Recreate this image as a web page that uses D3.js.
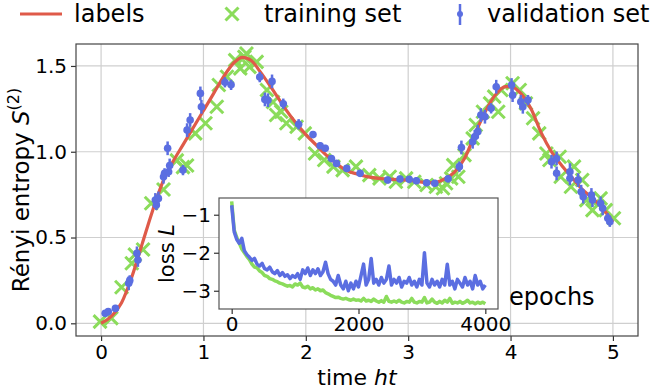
<!DOCTYPE html>
<html>
<head>
<meta charset="utf-8">
<script src="https://cdn.jsdelivr.net/npm/d3@7"></script>
<style>
  body { margin: 0; background: #fff; }
  svg text { font-family: "DejaVu Sans", sans-serif; fill: #000; }
</style>
</head>
<body>
<div id="chart"></div>
<script>
// labels (exact curve)
const labelT = [0.0, 0.1, 0.2, 0.3, 0.4, 0.5, 0.6, 0.7, 0.8, 0.9, 1.0, 1.1, 1.2, 1.3, 1.38, 1.47, 1.55, 1.7, 1.8, 1.9, 2.0, 2.1, 2.2, 2.3, 2.4, 2.5, 2.6, 2.8, 3.0, 3.15, 3.25, 3.35, 3.45, 3.55, 3.65, 3.75, 3.85, 3.95, 4.0, 4.1, 4.2, 4.3, 4.4, 4.5, 4.6, 4.7, 4.8, 4.9, 5.0];
const labelS = [0.0, 0.04, 0.12, 0.27, 0.46, 0.65, 0.82, 0.94, 1.04, 1.14, 1.24, 1.34, 1.44, 1.52, 1.55, 1.53, 1.47, 1.34, 1.25, 1.17, 1.10, 1.04, 0.98, 0.93, 0.89, 0.87, 0.855, 0.84, 0.835, 0.822, 0.82, 0.84, 0.88, 0.96, 1.10, 1.23, 1.33, 1.38, 1.38, 1.34, 1.25, 1.11, 1.00, 0.92, 0.85, 0.78, 0.73, 0.67, 0.59];

// training set
const trainT = [-0.01, 0.10, 0.20, 0.30, 0.33, 0.41, 0.49, 0.61, 0.74, 0.80, 0.84, 0.92, 1.02, 1.13, 1.15, 1.23, 1.31, 1.36, 1.40, 1.42, 1.45, 1.52, 1.62, 1.68, 1.71, 1.76, 1.81, 1.91, 1.99, 2.09, 2.18, 2.27, 2.36, 2.49, 2.62, 2.72, 2.82, 2.88, 2.98, 3.06, 3.18, 3.27, 3.34, 3.37, 3.42, 3.44, 3.49, 3.55, 3.63, 3.66, 3.73, 3.80, 3.84, 3.88, 3.91, 4.02, 4.09, 4.15, 4.22, 4.28, 4.35, 4.38, 4.48, 4.49, 4.59, 4.62, 4.70, 4.74, 4.80, 4.88, 4.93, 5.01];
const trainS = [0.01, 0.03, 0.21, 0.35, 0.40, 0.43, 0.70, 0.78, 0.95, 0.91, 0.92, 1.107, 1.166, 1.262, 1.389, 1.437, 1.534, 1.486, 1.553, 1.573, 1.495, 1.524, 1.36, 1.29, 1.214, 1.233, 1.166, 1.146, 1.107, 0.99, 0.952, 0.913, 0.893, 0.913, 0.864, 0.845, 0.854, 0.825, 0.845, 0.825, 0.806, 0.796, 0.787, 0.816, 0.845, 0.922, 0.854, 0.98, 1.078, 1.156, 1.233, 1.282, 1.321, 1.233, 1.36, 1.399, 1.36, 1.282, 1.195, 1.107, 0.99, 0.952, 0.971, 0.854, 0.796, 0.913, 0.835, 0.718, 0.66, 0.728, 0.66, 0.612];

// validation set
const valT = [0.04, 0.07, 0.14, 0.27, 0.28, 0.35, 0.36, 0.53, 0.54, 0.56, 0.61, 0.62, 0.65, 0.66, 0.67, 0.80, 0.84, 0.87, 0.97, 0.98, 1.21, 1.27, 1.55, 1.60, 1.63, 1.67, 1.78, 1.93, 2.07, 2.14, 2.19, 2.25, 2.30, 2.40, 2.53, 2.80, 2.92, 3.01, 3.08, 3.18, 3.26, 3.39, 3.50, 3.52, 3.63, 3.65, 3.68, 3.71, 3.75, 3.81, 3.86, 4.01, 4.02, 4.10, 4.12, 4.17, 4.40, 4.45, 4.45, 4.58, 4.58, 4.66, 4.69, 4.71, 4.79, 4.80, 4.88, 4.90, 4.95, 4.97];
const valS = [0.058, 0.068, 0.087, 0.233, 0.25, 0.408, 0.369, 0.719, 0.69, 0.728, 0.854, 0.874, 1.02, 0.883, 0.92, 0.893, 1.126, 1.185, 1.34, 1.262, 1.405, 1.39, 1.435, 1.305, 1.30, 1.41, 1.28, 1.16, 1.10, 1.035, 1.02, 0.96, 0.932, 0.903, 0.874, 0.835, 0.841, 0.839, 0.831, 0.819, 0.816, 0.842, 0.913, 1.025, 1.058, 1.087, 1.117, 1.214, 1.204, 1.253, 1.379, 1.389, 1.33, 1.291, 1.262, 1.301, 0.942, 0.961, 0.874, 0.883, 0.845, 0.835, 0.767, 0.738, 0.748, 0.718, 0.699, 0.67, 0.612, 0.592];
const valErr = [0.02, 0.02, 0.02, 0.04, 0.03, 0.04, 0.04, 0.04, 0.03, 0.04, 0.04, 0.03, 0.04, 0.03, 0.04, 0.03, 0.04, 0.04, 0.04, 0.04, 0.03, 0.03, 0.03, 0.04, 0.04, 0.04, 0.03, 0.03, 0.02, 0.02, 0.02, 0.02, 0.02, 0.02, 0.02, 0.02, 0.02, 0.02, 0.02, 0.02, 0.02, 0.02, 0.03, 0.04, 0.04, 0.04, 0.04, 0.04, 0.04, 0.03, 0.04, 0.04, 0.04, 0.04, 0.04, 0.03, 0.04, 0.04, 0.04, 0.05, 0.04, 0.04, 0.04, 0.04, 0.04, 0.04, 0.04, 0.04, 0.03, 0.03];

// inset: loss every 40 epochs
const epochs = d3.range(0, 4001, 40);
const lossVal = [-0.75, -1.45, -1.65, -1.75, -1.62, -1.95, -2.05, -2.12, -2.2, -2.15, -2.3, -2.35, -2.28, -2.42, -2.45, -2.38, -2.5, -2.55, -2.47, -2.6, -2.52, -2.62, -2.58, -2.68, -2.6, -2.65, -2.55, -2.7, -2.45, -2.55, -2.4, -2.6, -2.45, -2.55, -2.42, -2.6, -2.5, -2.25, -2.55, -2.7, -2.75, -2.85, -2.6, -2.85, -2.95, -2.75, -3.0, -2.8, -2.95, -2.75, -2.9, -2.6, -2.3, -2.85, -2.7, -2.15, -2.8, -2.7, -2.85, -2.65, -2.8, -2.7, -2.35, -2.85, -2.7, -2.8, -2.65, -2.9, -2.75, -2.8, -2.65, -2.85, -2.75, -2.9, -2.7, -2.85, -2.0, -2.8, -2.9, -2.7, -2.85, -2.75, -2.9, -2.7, -2.85, -2.3, -2.85, -2.75, -2.95, -2.7, -2.8, -2.9, -2.65, -2.85, -2.75, -2.95, -2.6, -2.85, -2.75, -2.95, -2.85];
const lossTrain = [-0.65, -1.4, -1.6, -1.75, -1.9, -2.0, -2.1, -2.18, -2.3, -2.38, -2.4, -2.48, -2.52, -2.6, -2.62, -2.68, -2.7, -2.74, -2.76, -2.8, -2.82, -2.85, -2.88, -2.86, -2.9, -2.82, -2.85, -2.8, -2.9, -2.92, -2.88, -2.95, -2.92, -2.98, -2.95, -3.0, -2.98, -3.05, -3.08, -3.12, -3.15, -3.18, -3.17, -3.2, -3.22, -3.2, -3.23, -3.25, -3.22, -3.25, -3.24, -3.27, -3.2, -3.27, -3.25, -3.28, -3.22, -3.27, -3.3, -3.26, -3.3, -3.15, -3.28, -3.3, -3.27, -3.3, -3.25, -3.3, -3.32, -3.28, -3.3, -3.2, -3.3, -3.32, -3.28, -3.3, -3.18, -3.32, -3.3, -3.22, -3.3, -3.33, -3.28, -3.32, -3.25, -3.3, -3.2, -3.33, -3.3, -3.32, -3.28, -3.33, -3.3, -3.25, -3.32, -3.3, -3.34, -3.3, -3.33, -3.3, -3.34];

const xTicks = [0, 1, 2, 3, 4, 5];
const yTicks = [0.0, 0.5, 1.0, 1.5];
const insetXTicks = [0, 2000, 4000];
const insetYTicks = [-1, -2, -3];

const RED = "#df5a49", GREEN = "#8bdc5b", BLUE = "#5b6ee1";
const width = 661, height = 392;
const box = { left: 76, right: 638, top: 44, bottom: 336 };
const inBox = { left: 219, right: 498, top: 198, bottom: 309 };

const svg = d3.select("#chart").append("svg")
  .attr("width", width).attr("height", height);

const x = d3.scaleLinear().domain([-0.245, 5.245]).range([box.left, box.right]);
const y = d3.scaleLinear().domain([-0.074, 1.628]).range([box.bottom, box.top]);

// grid
svg.append("g").selectAll("line").data(xTicks).enter().append("line")
  .attr("x1", d => x(d)).attr("x2", d => x(d))
  .attr("y1", box.top).attr("y2", box.bottom)
  .attr("stroke", "#cfcfcf").attr("stroke-width", 1.2);
svg.append("g").selectAll("line").data(yTicks).enter().append("line")
  .attr("y1", d => y(d)).attr("y2", d => y(d))
  .attr("x1", box.left).attr("x2", box.right)
  .attr("stroke", "#cfcfcf").attr("stroke-width", 1.2);

// axes
const xAxis = svg.append("g").attr("transform", "translate(0," + box.bottom + ")")
  .call(d3.axisBottom(x).tickValues(xTicks).tickFormat(d3.format("d")).tickSizeOuter(0).tickSize(5).tickPadding(4));
const yAxis = svg.append("g").attr("transform", "translate(" + box.left + ",0)")
  .call(d3.axisLeft(y).tickValues(yTicks).tickFormat(d3.format(".1f")).tickSizeOuter(0).tickSize(5).tickPadding(4));
[xAxis, yAxis].forEach(a => {
  a.select(".domain").remove();
  a.selectAll("line").attr("stroke", "#333").attr("stroke-width", 1.2);
  a.selectAll("text").style("font-size", "20px").style("font-family", "DejaVu Sans");
});
svg.append("rect")
  .attr("x", box.left).attr("y", box.top)
  .attr("width", box.right - box.left).attr("height", box.bottom - box.top)
  .attr("fill", "none").attr("stroke", "#444").attr("stroke-width", 1.2);

// training set crosses
const cross = 6.5;
const trainG = svg.append("g");
trainT.forEach((t, i) => {
  const cx = x(t), cy = y(trainS[i]);
  trainG.append("path")
    .attr("d", `M${cx - cross},${cy - cross}L${cx + cross},${cy + cross}M${cx - cross},${cy + cross}L${cx + cross},${cy - cross}`)
    .attr("stroke", GREEN).attr("stroke-width", 3).attr("fill", "none");
});

// labels line
const line = d3.line().x((d, i) => x(labelT[i])).y(d => y(d)).curve(d3.curveMonotoneX);
svg.append("path").datum(labelS).attr("d", line)
  .attr("fill", "none").attr("stroke", RED).attr("stroke-width", 3.2);

// validation errorbars
const valG = svg.append("g");
valT.forEach((t, i) => {
  valG.append("line")
    .attr("x1", x(t)).attr("x2", x(t))
    .attr("y1", y(valS[i] - valErr[i])).attr("y2", y(valS[i] + valErr[i]))
    .attr("stroke", BLUE).attr("stroke-width", 2.5);
  valG.append("circle").attr("cx", x(t)).attr("cy", y(valS[i])).attr("r", 3.8).attr("fill", BLUE);
});

// axis labels
svg.append("text").attr("x", (box.left + box.right) / 2).attr("y", 385)
  .attr("text-anchor", "middle").style("font-size", "22px")
  .html('time <tspan font-style="italic">ht</tspan>');
svg.append("text").attr("transform", "translate(29," + ((box.top + box.bottom) / 2) + ") rotate(-90)")
  .attr("text-anchor", "middle").style("font-size", "23px")
  .html('Rényi entropy <tspan font-style="italic">S</tspan><tspan dy="-10" font-size="16px">(2)</tspan>');

// inset
const ix = d3.scaleLinear().domain([-200, 4200]).range([inBox.left, inBox.right]);
const iy = d3.scaleLinear().domain([-3.48, -0.56]).range([inBox.bottom, inBox.top]);
svg.append("rect")
  .attr("x", inBox.left).attr("y", inBox.top)
  .attr("width", inBox.right - inBox.left).attr("height", inBox.bottom - inBox.top)
  .attr("fill", "#fff").attr("stroke", "#555").attr("stroke-width", 1.2);

const ixAxis = svg.append("g").attr("transform", "translate(0," + inBox.bottom + ")")
  .call(d3.axisBottom(ix).tickValues(insetXTicks).tickFormat(d3.format("d")).tickSizeOuter(0).tickSize(5).tickPadding(3));
const iyAxis = svg.append("g").attr("transform", "translate(" + inBox.left + ",0)")
  .call(d3.axisLeft(iy).tickValues(insetYTicks).tickFormat(d => "\u2212" + Math.abs(d)).tickSizeOuter(0).tickSize(5).tickPadding(3));
[ixAxis, iyAxis].forEach(a => {
  a.select(".domain").remove();
  a.selectAll("line").attr("stroke", "#333").attr("stroke-width", 1.2);
  a.selectAll("text").style("font-size", "20px").style("font-family", "DejaVu Sans");
});

const lossLine = d3.line().x((d, i) => ix(epochs[i])).y(d => iy(d));
svg.append("path").datum(lossTrain).attr("d", lossLine)
  .attr("fill", "none").attr("stroke", GREEN).attr("stroke-width", 3.5).attr("stroke-linejoin", "round");
svg.append("path").datum(lossVal).attr("d", lossLine)
  .attr("fill", "none").attr("stroke", BLUE).attr("stroke-width", 3.5).attr("stroke-linejoin", "round");

svg.append("text").attr("transform", "translate(174," + ((inBox.top + inBox.bottom) / 2) + ") rotate(-90)")
  .attr("text-anchor", "middle").style("font-size", "21px")
  .html('loss <tspan font-style="italic">L</tspan>');
svg.append("text").attr("x", 509).attr("y", 305).style("font-size", "24px").text("epochs");

// legend
const leg = svg.append("g");
leg.append("line").attr("x1", 20).attr("x2", 62).attr("y1", 14).attr("y2", 14)
  .attr("stroke", RED).attr("stroke-width", 3.2);
leg.append("text").attr("x", 74).attr("y", 22).style("font-size", "24px").text("labels");
leg.append("path")
  .attr("d", `M${232 - cross},${14 - cross}L${232 + cross},${14 + cross}M${232 - cross},${14 + cross}L${232 + cross},${14 - cross}`)
  .attr("stroke", GREEN).attr("stroke-width", 3).attr("fill", "none");
leg.append("text").attr("x", 264).attr("y", 22).style("font-size", "24px").text("training set");
leg.append("line").attr("x1", 460).attr("x2", 460).attr("y1", 4).attr("y2", 25)
  .attr("stroke", BLUE).attr("stroke-width", 2.5);
leg.append("circle").attr("cx", 460).attr("cy", 14).attr("r", 3).attr("fill", BLUE);
leg.append("text").attr("x", 487).attr("y", 22).style("font-size", "24px").text("validation set");
</script>
</body>
</html>
